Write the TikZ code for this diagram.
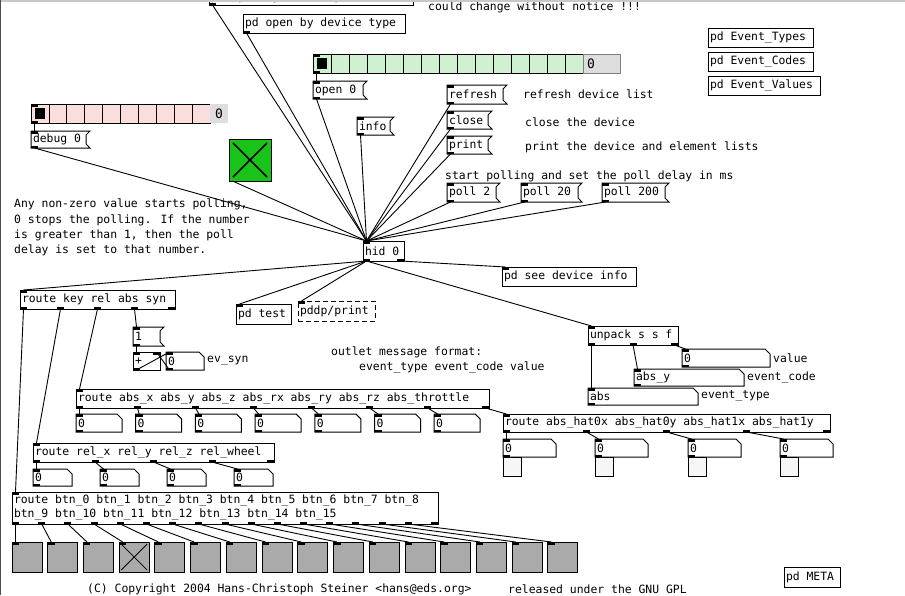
\documentclass[tikz,border=0pt]{standalone}
\usepackage{fontspec}
\newfontfamily\pdfont{DejaVu Sans Mono}
\usetikzlibrary{calc}

\definecolor{radgreen}{RGB}{208,241,208}
\definecolor{radpink}{RGB}{250,222,222}
\definecolor{dispgray}{RGB}{222,222,222}
\definecolor{tglgreen}{RGB}{24,196,24}
\definecolor{bangray}{RGB}{170,170,170}
\definecolor{barfill}{RGB}{246,246,246}
\definecolor{framegray}{RGB}{200,200,200}

\newcommand\pdtextfont{\pdfont\fontsize{11.4}{14}\selectfont}

\tikzset{
  pdtext/.style={font=\pdtextfont, anchor=north west, inner xsep=2pt, inner ysep=0pt,
                 outer sep=0pt},
  pdedge/.style={line width=1pt},
  wire/.style={line width=0.9pt},
  note/.style={font=\pdtextfont, anchor=west, inner sep=0pt, align=left},
  squarebox/.style={draw, line width=1pt, anchor=north west, inner sep=0pt, outer sep=0pt},
}

% inlets and outlets of a box: node, width, #inlets, #outlets
\newcommand\pdio[4]{%
  \ifnum#3>0
    \foreach \k in {1,...,#3}{%
      \pgfmathsetmacro\pdoff{(\k-1)*(#2-7)/max(#3-1,1)}%
      \fill ($(#1.north west)+(\pdoff,0)$) rectangle ++(7,2.5);
      \coordinate (#1-i\k) at ($(#1.north west)+(\pdoff+3.5,0)$);
    }%
  \fi
  \ifnum#4>0
    \foreach \k in {1,...,#4}{%
      \pgfmathsetmacro\pdoff{(\k-1)*(#2-7)/max(#4-1,1)}%
      \fill ($(#1.south west)+(\pdoff,0)$) rectangle ++(7,-2.5);
      \coordinate (#1-o\k) at ($(#1.south west)+(\pdoff+3.5,0)$);
    }%
  \fi}

% object box: [style] name, x, y, width, height, text
\newcommand\pdobj[7][]{%
  \pgfmathsetmacro\pdtw{#5-4}%
  \node[pdtext, draw, line width=1pt, minimum width=#5, minimum height=#6, #1] (#2) at (#3,#4)
    {\makebox[\pdtw pt][l]{#7}};}

% message box with flag: name, x, y, width, height, text
\newcommand\pdmsg[6]{%
  \pgfmathsetmacro\pdtw{#4-4}%
  \node[pdtext, minimum width=#4, minimum height=#5] (#1) at (#2,#3) {\makebox[\pdtw pt][l]{#6}};
  \draw[pdedge] (#1.north west) -- ($(#1.north east)+(4,0)$) -- ($(#1.north east)+(0,4)$)
     -- ($(#1.south east)+(0,-4)$) -- ($(#1.south east)+(4,0)$) -- (#1.south west) -- cycle;
  \pdio{#1}{#4}{1}{1}}

% number / symbol atom: name, x, y, width, height, text
\newcommand\pdnum[6]{%
  \pgfmathsetmacro\pdtw{#4-4}%
  \node[pdtext, minimum width=#4, minimum height=#5] (#1) at (#2,#3) {\makebox[\pdtw pt][l]{#6}};
  \draw[pdedge] (#1.north west) -- ($(#1.north east)+(-5,0)$) -- ($(#1.north east)+(0,5)$)
     -- (#1.south east) -- (#1.south west) -- cycle;
  \pdio{#1}{#4}{1}{1}}

% horizontal radio: name, x, y, cell, cells, height, fill
\newcommand\pdradio[7]{%
  \pgfmathsetmacro\pdrw{#4*#5}%
  \pgfmathtruncatemacro\pdrn{#5-1}%
  \node[squarebox, fill=#7, minimum width=\pdrw, minimum height=#6] (#1) at (#2,#3) {};
  \foreach \c in {1,...,\pdrn}{\draw[line width=0.8pt] ($(#1.north west)+(\c*#4,0)$) -- ++(0,#6);}
  \fill ($(#1.north west)+(4,4)$) rectangle ++(#4-8,#6-8);
  \pdio{#1}{\pdrw}{1}{1}}

\begin{document}
\begin{tikzpicture}[x=1pt,y=-1pt]
\useasboundingbox (0,0) rectangle (905,595);
\clip (0,0) rectangle (905,595);
\fill[white] (0,0) rectangle (905,595);

% ---- opening the device
\pdobj{topobj}{209}{-11}{204}{16}{pd open by vendor,product ID}
\pdio{topobj}{204}{0}{1}
\node[note] (warn) at (428,7.5) {could change without notice !!!};
\pdobj{devtype}{243}{14}{162}{19}{pd open by device type}
\pdio{devtype}{162}{0}{1}

\pdradio{devradio}{313}{54}{18}{15}{19}{radgreen}
\node[anchor=north west, fill=dispgray, draw=black!50, line width=0.6pt, minimum width=37,
      minimum height=19, inner xsep=4pt, inner ysep=0pt, outer sep=0pt, text width=29pt,
      align=left, font=\pdfont\fontsize{13}{13}\selectfont] (devval) at (583,54) {0};
\pdmsg{open}{313}{81}{50}{18}{open 0}
\pdmsg{info}{357}{117}{33}{18}{info}

\pdradio{dbgradio}{31}{104}{17.9}{10}{19}{radpink}
\node[anchor=north west, fill=dispgray, minimum width=18, minimum height=19, inner sep=0pt,
      outer sep=0pt, font=\pdfont\fontsize{13}{13}\selectfont] (dbgval) at (210,104) {0};
\pdmsg{debug}{31}{131}{55}{17}{debug 0}

\node[squarebox, fill=tglgreen, minimum size=42] (tgl) at (229,139) {};
\draw[line width=1.6pt] ($(tgl.north west)+(4,4)$) -- ($(tgl.south east)+(-4,-4)$);
\draw[line width=1.6pt] ($(tgl.north east)+(-4,4)$) -- ($(tgl.south west)+(4,-4)$);
\coordinate (tgl-o1) at ($(tgl.south west)+(3.5,0)$);

% ---- device messages
\pdmsg{refresh}{447}{85}{56}{19}{refresh}
\node[note] (refreshnote) at (523,94) {refresh device list};
\pdmsg{close}{447}{111}{41}{18}{close}
\node[note] (closenote) at (525,122) {close the device};
\pdmsg{print}{447}{136}{41}{18}{print}
\node[note] (printnote) at (525,147) {print the device and element lists};
\node[note] (pollnote) at (445,176) {start polling and set the poll delay in ms};
\pdmsg{pollA}{447}{183}{49}{19}{poll 2}
\pdmsg{pollB}{521}{183}{57}{19}{poll 20}
\pdmsg{pollC}{602}{183}{63}{19}{poll 200}

\node[note, anchor=north west, font=\pdfont\fontsize{11.4}{15.3}\selectfont] (pollhelp) at (14,199)
  {Any non-zero value starts polling,\\0 stops the polling. If the number\\is greater than 1, then the poll\\delay is set to that number.};

% ---- subpatches
\pdobj{evtypes}{708}{28}{105}{19}{pd Event\_Types}
\pdobj{evcodes}{708}{52}{105}{19}{pd Event\_Codes}
\pdobj{evvalues}{708}{76}{112}{19}{pd Event\_Values}
\pdobj{meta}{784}{567}{56}{20}{pd META}

% ---- the hid object and its outputs
\pdobj{hid}{363}{241}{41}{20}{hid 0}
\pdio{hid}{41}{1}{2}
\pdobj{seeinfo}{502}{267}{134}{19}{pd see device info}
\pdio{seeinfo}{134}{1}{0}
\pdobj{keyroute}{20}{290}{155}{19}{route key rel abs syn}
\pdio{keyroute}{155}{1}{5}
\pdobj{pdtest}{236}{304}{55}{20}{pd test}
\pdio{pdtest}{55}{1}{0}
\pdobj[dash pattern=on 5pt off 3pt]{pddp}{298}{301}{77}{20}{pddp/print}
\pdio{pddp}{77}{1}{0}

\pdmsg{one}{133}{327}{27}{19}{1}
\pdobj{plus}{133}{352}{27}{18}{+}
\pdio{plus}{27}{2}{1}
\pdnum{evsyn}{166}{352}{38}{18}{0}
\node[note] (evsynlabel) at (207,361) {ev\_syn};

\node[note] (fmt1) at (331,352) {outlet message format:};
\node[note] (fmt2) at (359,367) {event\_type event\_code value};

% ---- absolute axes
\pdobj{absroute}{76}{389}{413}{19}{route abs\_x abs\_y abs\_z abs\_rx abs\_ry abs\_rz abs\_throttle}
\pdio{absroute}{413}{1}{8}
\foreach \i in {1,...,7}{%
  \pgfmathsetmacro\nx{76+59.7*(\i-1)}%
  \pdnum{absnum\i}{\nx}{414}{46}{18}{0}
}

% ---- relative axes
\pdobj{relroute}{33}{443}{241}{19}{route rel\_x rel\_y rel\_z rel\_wheel}
\pdio{relroute}{241}{1}{5}
\foreach \i/\nx in {1/33,2/100,3/167,4/234}{%
  \pdnum{relnum\i}{\nx}{469}{39}{17}{0}
}

% ---- buttons
\pdobj{btnroute}{12}{492}{426}{32}{\begin{tabular}{@{}l@{}}route btn\_0 btn\_1 btn\_2 btn\_3 btn\_4 btn\_5 btn\_6 btn\_7 btn\_8\\btn\_9 btn\_10 btn\_11 btn\_12 btn\_13 btn\_14 btn\_15\end{tabular}}
\pdio{btnroute}{426}{1}{17}
\foreach \i in {1,...,16}{%
  \pgfmathsetmacro\bx{12+(\i-1)*35.73}%
  \node[squarebox, fill=bangray, minimum size=30] (bang\i) at (\bx,542) {};
  \pdio{bang\i}{30}{1}{0}
}
\draw[line width=0.8pt] ($(bang4.north west)+(2,2)$) -- ($(bang4.south east)+(-2,-2)$)
                        ($(bang4.north east)+(-2,2)$) -- ($(bang4.south west)+(2,-2)$);

% ---- unpacked event
\pdobj{unpack}{588}{326}{90}{19}{unpack s s f}
\pdio{unpack}{90}{1}{3}
\pdnum{valnum}{682}{349}{88}{18}{0}
\node[note] (vallabel) at (773,358) {value};
\pdnum{codesym}{634}{369}{110}{17}{abs\_y}
\node[note] (codelabel) at (747,378) {event\_code};
\pdnum{typesym}{588}{388}{110}{17}{abs}
\node[note] (typelabel) at (701,396) {event\_type};

% ---- hat switches
\pdobj{hatroute}{503}{414}{327}{18}{route abs\_hat0x abs\_hat0y abs\_hat1x abs\_hat1y}
\pdio{hatroute}{327}{1}{5}
\foreach \i/\nx in {1/503,2/595,3/688,4/780}{%
  \node[squarebox, fill=barfill, minimum width=18, minimum height=19] (hatbar\i) at (\nx,457) {};
  \pdnum{hatnum\i}{\nx}{439}{53}{18}{0}
}

% ---- footer
\node[note] (copyright) at (87,589) {(C) Copyright 2004 Hans-Christoph Steiner <hans@eds.org>};
\node[note] (gpl) at (508,589) {released under the GNU GPL};

% ---- connections
\foreach \src in {topobj,devtype,open,info,refresh,close,print,pollA,pollB,pollC,debug,tgl}{%
  \draw[wire] (\src-o1) -- (hid-i1);
}
\draw[wire] (devradio-o1) -- (open-i1);
\draw[wire] (dbgradio-o1) -- (debug-i1);

\draw[wire] (hid-o1) -- (keyroute-i1);
\draw[wire] (hid-o1) -- (pdtest-i1);
\draw[wire] (hid-o1) -- (pddp-i1);
\draw[wire] (hid-o1) -- (unpack-i1);
\draw[wire] (hid-o2) -- (seeinfo-i1);

\draw[wire] (keyroute-o1) -- (btnroute-i1);
\draw[wire] (keyroute-o2) -- (relroute-i1);
\draw[wire] (keyroute-o3) -- (absroute-i1);
\draw[wire] (keyroute-o4) -- (one-i1);
\draw[wire] (one-o1) -- (plus-i1);
\draw[wire] (plus-o1) -- (evsyn-i1);
\draw[wire] (evsyn-o1) -- (plus-i2);

\foreach \i in {1,...,7}{\draw[wire] (absroute-o\i) -- (absnum\i-i1);}
\draw[wire] (absroute-o8) -- (hatroute-i1);
\foreach \i in {1,...,4}{\draw[wire] (relroute-o\i) -- (relnum\i-i1);}
\foreach \i in {1,...,4}{\draw[wire] (hatroute-o\i) -- (hatnum\i-i1);}
\foreach \i in {1,...,16}{\draw[wire] (btnroute-o\i) -- (bang\i-i1);}

\draw[wire] (unpack-o1) -- (typesym-i1);
\draw[wire] (unpack-o2) -- (codesym-i1);
\draw[wire] (unpack-o3) -- (valnum-i1);

% ---- window frame
\fill[framegray] (0,0) rectangle (905,2);
\draw[line width=1.2pt, black!70] (0.6,0) -- (0.6,595);
\end{tikzpicture}
\end{document}
